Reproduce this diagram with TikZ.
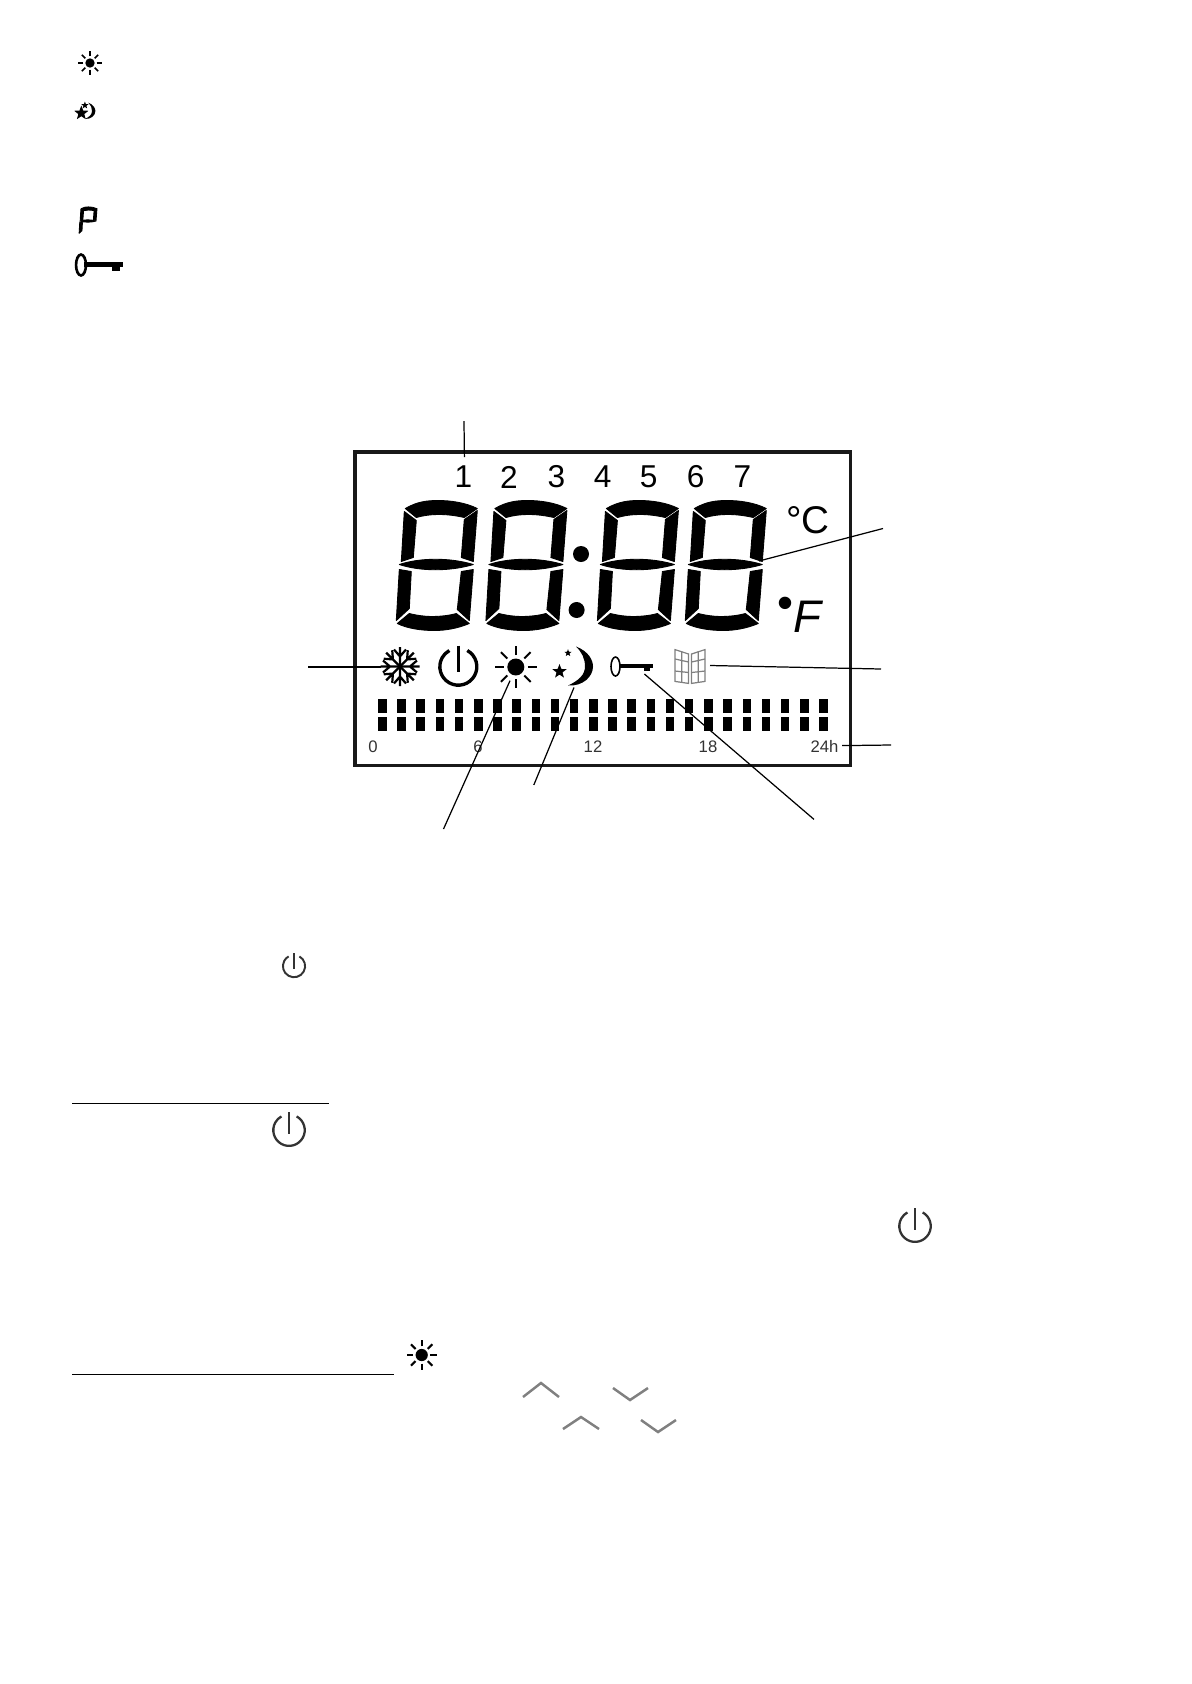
\documentclass[tikz,border=0pt]{standalone}
\usepackage{fontspec}
\setmainfont{Liberation Sans}
\usepackage{tikz}

\definecolor{lcdgrey}{gray}{0.5}

\tikzset{
  leader/.style={line width=0.7pt, black},
  daylabel/.style={font=\fontsize{18}{18}\selectfont, text=black},
  hourlabel/.style={font=\fontsize{9.5}{10}\selectfont, text=black!80},
  unitlabel/.style={font=\fontsize{22}{22}\selectfont, text=black},
  chevron/.style={line width=1.4pt, lcdgrey},
  segment/.style={fill=black, draw=black, line width=0.5pt, line join=round},
  pics/uppersegs/.style={code={
    \path[segment] (-30,-56) .. controls (-18,-63) and (-8,-64) .. (3,-64) .. controls (15,-64) and (30,-62) .. (42,-56)
      -- (29,-47) .. controls (20,-49) and (12,-50) .. (4,-50) .. controls (-5,-50) and (-12,-49) .. (-19,-47) -- cycle;
    \path[segment] (42,-54) -- (38,-3) -- (26,-7) -- (29,-45) -- cycle;
    \path[segment] (-31,-53) -- (-19,-44) -- (-22,-7) -- (-34,-3) -- cycle;
    \path[segment] (-36,0) .. controls (-15,-7) and (15,-7) .. (38,0) .. controls (15,7) and (-15,7) .. cycle;
    \path[segment] (-36,5) -- (-24,7) -- (-26,44) -- (-39,56) -- cycle;
  }},
  pics/lcddigit/.style={code={
    \pic {uppersegs};
    \path[segment] (38,5) -- (26,7) -- (22,45) -- (34,56) -- cycle;
    \path[segment] (-38,59) -- (-26,49) .. controls (-18,51) and (-10,52) .. (-4,52) .. controls (5,52) and (14,51) .. (21,49)
      -- (34,59) .. controls (22,64) and (10,66) .. (-1,66) .. controls (-14,66) and (-28,64) .. cycle;
  }},
  pics/sunicon/.style={code={
    \fill (0,0) circle[radius=8.5];
    \foreach \rayangle in {0,45,...,315} {
      \draw ({12*cos(\rayangle)},{12*sin(\rayangle)}) -- ({21*cos(\rayangle)},{21*sin(\rayangle)});
    }
  }},
  pics/staricon/.style={code={
    \fill plot[samples at={0,...,9}] ({(mod(\x,2)==0?1:0.42)*sin(36*\x)},{-(mod(\x,2)==0?1:0.42)*cos(36*\x)}) -- cycle;
  }},
  pics/moonicon/.style={code={
    \fill (3,-20) .. controls (16,-15) and (20,-6) .. (20,0) .. controls (20,10) and (10,20) .. (-5,19)
      .. controls (6,14) and (12,8) .. (12,0) .. controls (12,-8) and (9,-14) .. (3,-20);
    \pic[scale=7.5] at (-13.5,5) {staricon};
    \pic[scale=3.8] at (-5,-13.5) {staricon};
  }},
  pics/keyicon/.style={code={
    \draw (0,0) ellipse[x radius=4.5, y radius=9.5];
    \filldraw (4,-1.5) rectangle (37,1);
    \filldraw (29,1) rectangle (34,4);
  }},
  pics/powericon/.style={code={
    \draw (0,-21) -- (0,5);
    \draw (9,-16) arc[start angle=-61, end angle=241, radius=18.5];
  }},
}

\begin{document}
\begin{tikzpicture}[x=0.02cm, y=-0.02cm]

  \useasboundingbox (0,0) rectangle (1191,1684);

  % display frame
  \draw[line width=2pt, black!90] (355,452) rectangle (850.5,765.5);

  % big digits
  \foreach \digitx in {435.3,524.9,636.4,724.3} {
    \pic at (\digitx,564.5) {lcddigit};
  }
  \fill (581,554) circle[radius=8];
  \fill (576.6,610) circle[radius=8];

  % days of the week
  \foreach \dayx/\day in {463.4/1, 509/2, 556.4/3, 602.7/4, 648.6/5, 695.6/6, 742.3/7} {
    \node[daylabel] (day\day) at (\dayx,477) {\day};
  }

  % units
  \node[unitlabel] (celsius) at (808,520.6) {°C};
  \node[unitlabel, anchor=base, font=\fontsize{26}{26}\selectfont] (fahrenheit) at (799,632.7) {\raisebox{0.32em}{•}\itshape F};

  % row of icons
  \foreach \armangle in {0,45,...,315} {
    \begin{scope}[shift={(400,666.5)}, rotate=\armangle]
      \draw[line width=1.25pt] (0,0) -- (19.5,0) (10,0) -- (17,-6) (10,0) -- (17,6);
    \end{scope}
  }
  \pic[line width=1.9pt] at (458.3,666.5) {powericon};
  \pic[line width=1.1pt] at (515.8,667) {sunicon};
  \pic at (573,666.5) {moonicon};
  \pic[line width=0.9pt] at (615.5,666.5) {keyicon};

  % window
  \begin{scope}[lcdgrey, line width=0.7pt]
    \draw (675,649.6) -- (688.6,654) -- (688.6,683.4) -- (675,681.4) -- cycle;
    \draw (705,649.6) -- (691.5,654) -- (691.5,683.4) -- (705,681.4) -- cycle;
    \draw (681.8,651.5) -- (681.8,682.4) (675,659) -- (688.6,662) (675,671) -- (688.6,672.5);
    \draw (698.2,651.5) -- (698.2,682.4) (705,659) -- (691.5,662) (705,671) -- (691.5,672.5);
  \end{scope}

  % bar graph of the hours
  \foreach \barno in {0,...,23} {
    \fill ({382.3+19.18*\barno-4.2},699.3) rectangle ++(8.5,13.5);
    \fill ({382.3+19.18*\barno-4.2},717.2) rectangle ++(8.5,14.2);
  }
  \foreach \hourx/\hour/\hourname in {373/0/a, 478/6/b, 593/12/c, 708/18/d, 824.5/24h/e} {
    \node[hourlabel] (hour\hourname) at (\hourx,746.6) {\hour};
  }

  % leader lines
  \coordinate (topend) at (464,421);
  \coordinate (topstart) at (464.4,457);
  \coordinate (digitend) at (883,528.5);
  \coordinate (digitstart) at (759,561);
  \coordinate (snowend) at (308,667);
  \coordinate (snowstart) at (380.6,667);
  \coordinate (windowend) at (881,669);
  \coordinate (windowstart) at (710,665.5);
  \coordinate (hourend) at (891,745);
  \coordinate (hourstart) at (842,745.6);
  \coordinate (sunend) at (443.5,829);
  \coordinate (sunstart) at (510,680.7);
  \coordinate (moonend) at (533.8,785);
  \coordinate (moonstart) at (574,687.5);
  \coordinate (keyend) at (814,819.4);
  \coordinate (keystart) at (644.4,674);
  \foreach \leadername in {top,digit,snow,window,hour,sun,moon,key} {
    \draw[leader] (\leadername start) -- (\leadername end);
  }

  % small icons of the text
  \pic[scale=0.55, line width=0.9pt] at (90,63) {sunicon};
  \pic[scale=0.42] at (87,111) {moonicon};
  \pic[scale=0.22] at (87.7,221) {uppersegs};
  \pic[scale=1.1, line width=1.5pt] at (81,265) {keyicon};
  \pic[scale=0.6, line width=1.1pt, black!80] at (294,966) {powericon};
  \pic[scale=0.85, line width=1.3pt, black!80] at (289,1130) {powericon};
  \pic[scale=0.85, line width=1.3pt, black!80] at (915,1226) {powericon};
  \pic[scale=0.72, line width=1.2pt] at (421.7,1355) {sunicon};

  % underlined headings
  \coordinate (ruleaa) at (72,1103);
  \coordinate (ruleab) at (329,1103);
  \coordinate (ruleba) at (72,1374);
  \coordinate (rulebb) at (394,1374);
  \draw[line width=0.5pt] (ruleaa) -- (ruleab);
  \draw[line width=0.5pt] (ruleba) -- (rulebb);

  % arrow keys
  \draw[chevron] (523,1397) -- (541,1383) -- (559,1397);
  \draw[chevron] (613,1388) -- (630,1400) -- (648,1388);
  \draw[chevron] (563,1429) -- (581,1417) -- (599,1429);
  \draw[chevron] (641,1420) -- (658,1432) -- (676,1420);

\end{tikzpicture}
\end{document}
